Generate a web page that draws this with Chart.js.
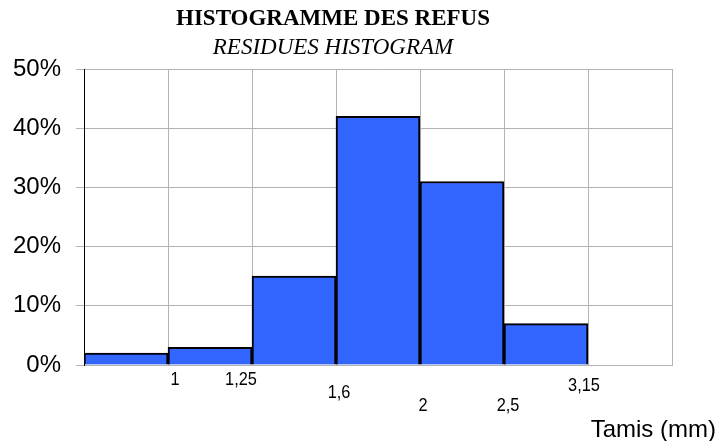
<!DOCTYPE html>
<html>
<head>
<meta charset="utf-8">
<title>Histogramme des refus</title>
<script src="https://cdn.jsdelivr.net/npm/chart.js@4.4.1/dist/chart.umd.min.js"></script>
<style>
  html, body { margin: 0; padding: 0; background: #fff; }
  #wrap { width: 717px; height: 441px; }
</style>
</head>
<body>
<div id="wrap"><canvas id="histo" width="717" height="441"></canvas></div>
<script>
// bins between sieves (mm) and % retained
const categories = ["< 1", "1 - 1,25", "1,25 - 1,6", "1,6 - 2", "2 - 2,5", "2,5 - 3,15", "> 3,15"];
const refus = [2, 3, 15, 42, 31, 7, 0];
// sieve sizes, shown at the right edge of each bin
const sieveLabels = ["1", "1,25", "1,6", "2", "2,5", "3,15"];

const titleText = "HISTOGRAMME DES REFUS";
const subtitleText = "RESIDUES HISTOGRAM";
const axisTitle = "Tamis (mm)";

const GRID = "#b3b3b3";

const textPlugin = {
  id: "textPlugin",
  afterDraw(chart) {
    const ctx = chart.ctx;
    const x = chart.scales.x;
    const area = chart.chartArea;
    ctx.save();
    ctx.fillStyle = "#000";

    // titles
    ctx.textAlign = "center";
    ctx.textBaseline = "middle";
    ctx.font = "bold 23px 'Liberation Serif', 'Times New Roman', serif";
    ctx.fillText(titleText, 333, 19);
    ctx.font = "italic 23px 'Liberation Serif', 'Times New Roman', serif";
    ctx.fillText(subtitleText, 333, 48);

    // staggered sieve labels (narrow font)
    const dx = [7, -11, 3, 3, 4, -4];
    const dy = [15, 15, 28, 41, 41, 21];
    const half = (x.getPixelForValue(1) - x.getPixelForValue(0)) / 2;
    ctx.font = "19px 'Liberation Sans', Arial, sans-serif";
    sieveLabels.forEach((lab, i) => {
      const px = x.getPixelForValue(i) + half + dx[i];
      const py = area.bottom + dy[i];
      ctx.save();
      ctx.translate(px, py);
      ctx.scale(0.86, 1);
      ctx.fillText(lab, 0, 0);
      ctx.restore();
    });

    // axis title
    ctx.textAlign = "right";
    ctx.font = "24px 'Liberation Sans', Arial, sans-serif";
    ctx.fillText(axisTitle, 716, 430);
    ctx.restore();
  }
};

new Chart(document.getElementById("histo"), {
  type: "bar",
  data: {
    labels: categories,
    datasets: [{
      label: "Refus",
      data: refus,
      backgroundColor: "#3366ff",
      borderColor: "#000",
      borderWidth: 2,
      barPercentage: 1,
      categoryPercentage: 1,
    }],
  },
  options: {
    responsive: false,
    animation: false,
    layout: { padding: { top: 69, right: 45, left: 0, bottom: 0 } },
    plugins: {
      legend: { display: false },
      tooltip: { enabled: false },
      title: { display: false },
    },
    scales: {
      x: {
        offset: true,
        grid: {
          offset: true,
          drawTicks: false,
          color: (c) => (c.index === 0 ? "rgba(0,0,0,0)" : GRID),
        },
        border: { display: true, color: GRID },
        ticks: { display: false },
        afterFit: (scale) => { scale.height = 76; },
      },
      y: {
        min: 0,
        max: 50,
        ticks: {
          stepSize: 10,
          padding: 15,
          color: "#000",
          font: { family: "'Liberation Sans', Arial, sans-serif", size: 24 },
          callback: (v) => v + "%",
        },
        grid: { color: GRID, tickLength: 8 },
        border: { color: "#000", width: 1 },
        afterFit: (scale) => { scale.width = 84; },
      },
    },
  },
  plugins: [textPlugin],
});
</script>
</body>
</html>
